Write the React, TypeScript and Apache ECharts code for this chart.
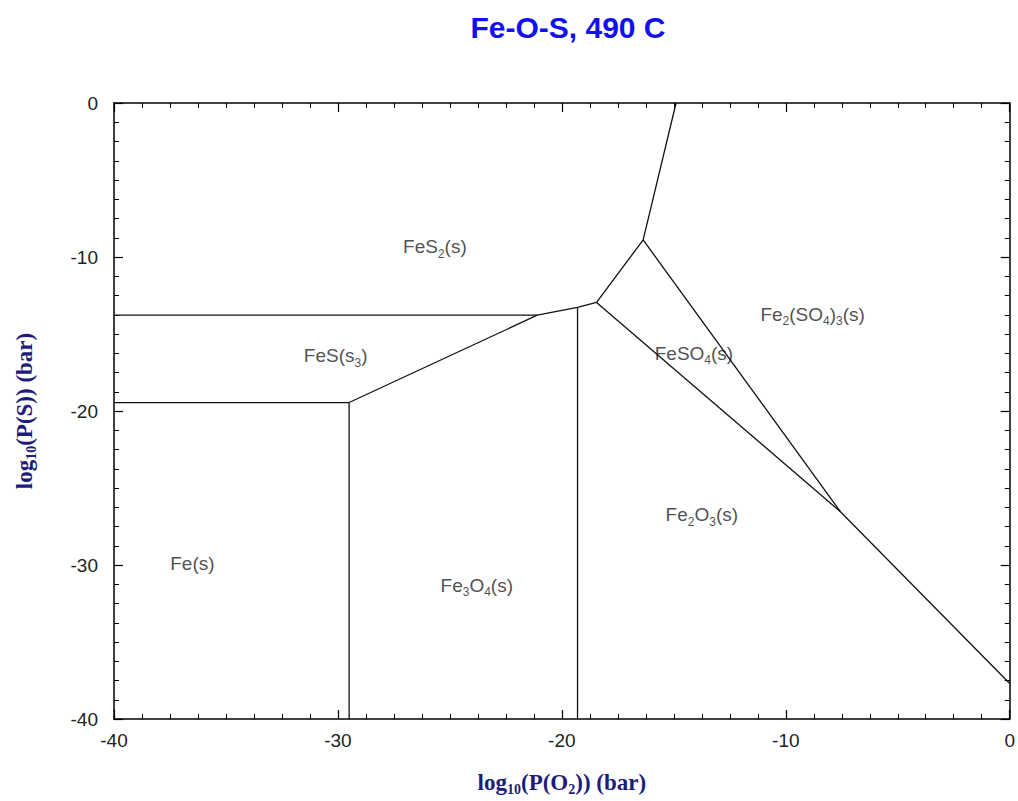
import React, { useEffect, useRef } from "react";
import * as echarts from "echarts";

// ---- data (log10 P(O2), log10 P(S)) ----
const titleText = "Fe-O-S, 490 C";
const xTicks = [-40, -30, -20, -10, 0];
const yTicks = [-40, -30, -20, -10, 0];

const feS_FeS2: number[][] = [[-40, -13.78], [-21.1, -13.78]];
const fe_FeS: number[][] = [[-40, -19.45], [-29.5, -19.45]];
const fe_Fe3O4: number[][] = [[-29.5, -19.45], [-29.5, -40]];
const sulfide_Oxide: number[][] = [[-29.5, -19.45], [-21.1, -13.78], [-19.3, -13.27], [-18.45, -12.95]];
const fe3O4_Fe2O3: number[][] = [[-19.3, -13.27], [-19.3, -40]];
const feS2_Sulfate: number[][] = [[-18.45, -12.95], [-16.37, -8.89], [-14.9, 0]];
const feSO4_Fe2SO43: number[][] = [[-16.37, -8.89], [-7.56, -26.54]];
const fe2O3_Sulfate: number[][] = [[-18.45, -12.95], [-7.56, -26.54], [0, -37.7]];

const boundaries = [feS_FeS2, fe_FeS, fe_Fe3O4, sulfide_Oxide, fe3O4_Fe2O3, feS2_Sulfate, feSO4_Fe2SO43, fe2O3_Sulfate];

const regionNames = [
  "FeS{s|2}(s)",
  "FeS(s{s|3})",
  "Fe(s)",
  "Fe{s|3}O{s|4}(s)",
  "Fe{s|2}O{s|3}(s)",
  "FeSO{s|4}(s)",
  "Fe{s|2}(SO{s|4}){s|3}(s)",
];
const regionX = [-25.67, -30.1, -36.5, -23.8, -13.75, -14.1, -8.8];
const regionY = [-9.34, -16.42, -29.9, -31.3, -26.73, -16.25, -13.72];

export default function App() {
  const ref = useRef<HTMLDivElement>(null);
  useEffect(() => {
    if (!ref.current) return;
    const chart = echarts.init(ref.current, undefined, { renderer: "svg" });
    const axisCommon = {
      type: "value" as const,
      min: -40,
      max: 0,
      interval: 10,
      axisLine: { show: true, onZero: false, lineStyle: { color: "#000", width: 1.5 } },
      axisTick: { show: true, inside: true, length: 9, lineStyle: { color: "#000", width: 1.2 } },
      minorTick: { show: true, splitNumber: 8, length: 5, lineStyle: { color: "#000", width: 1 } },
      splitLine: { show: false },
      minorSplitLine: { show: false },
    };
    const labelStyle = { color: "#222", fontSize: 19, fontFamily: "Liberation Sans, Arial, sans-serif" };
    const nameRich = {
      b: { fontFamily: "Liberation Serif, Times New Roman, serif", fontWeight: "bold" as const, fontSize: 23, color: "#1c1c7c", lineHeight: 28 },
      s: { fontFamily: "Liberation Serif, Times New Roman, serif", fontWeight: "bold" as const, fontSize: 14, color: "#1c1c7c", lineHeight: 14, verticalAlign: "bottom" as const },
    };
    chart.setOption({
      animation: false,
      backgroundColor: "#fff",
      title: {
        text: titleText,
        left: 563,
        textAlign: "center",
        top: 7,
        textStyle: { color: "#1010f0", fontSize: 30, fontWeight: "bold", fontFamily: "Liberation Sans, Arial, sans-serif" },
      },
      grid: { left: 114, top: 103, right: 5, bottom: 77, containLabel: false },
      xAxis: [
        {
          ...axisCommon,
          position: "bottom",
          axisLabel: { ...labelStyle, margin: 12, formatter: (v: number) => (xTicks.includes(v) ? String(v) : "") },
          name: "{b|log}{s|10}{b|(P(O}{s|2}{b|)) (bar)}",
          nameLocation: "middle",
          nameGap: 49,
          nameTextStyle: { rich: nameRich },
        },
        { ...axisCommon, position: "top", axisLabel: { show: false } },
      ],
      yAxis: [
        {
          ...axisCommon,
          position: "left",
          axisLabel: { ...labelStyle, margin: 16, formatter: (v: number) => (yTicks.includes(v) ? String(v) : "") },
          name: "{b|log}{s|10}{b|(P(S)) (bar)}",
          nameLocation: "middle",
          nameGap: 76,
          nameTextStyle: { rich: nameRich },
        },
        { ...axisCommon, position: "right", axisLabel: { show: false } },
      ],
      series: [
        ...boundaries.map((seg) => ({
          type: "line",
          data: seg,
          xAxisIndex: 0,
          yAxisIndex: 0,
          symbol: "none",
          lineStyle: { color: "#111", width: 1.3 },
          silent: true,
        })),
        {
          type: "scatter",
          xAxisIndex: 0,
          yAxisIndex: 0,
          symbolSize: 0,
          data: regionX.map((x, i) => ({ value: [x, regionY[i]], name: regionNames[i] })),
          label: {
            show: true,
            position: "inside",
            formatter: (p: any) => p.name,
            color: "#222",
            fontSize: 19,
            fontFamily: "Liberation Sans, Arial, sans-serif",
            lineHeight: 26,
            rich: {
              s: { fontSize: 12, lineHeight: 12, verticalAlign: "bottom", color: "#222", fontFamily: "Liberation Sans, Arial, sans-serif" },
            },
          },
          silent: true,
        },
      ],
    });
    return () => chart.dispose();
  }, []);
  return <div ref={ref} style={{ position: "absolute", left: 0, top: 0, width: 1018, height: 801 }} />;
}
